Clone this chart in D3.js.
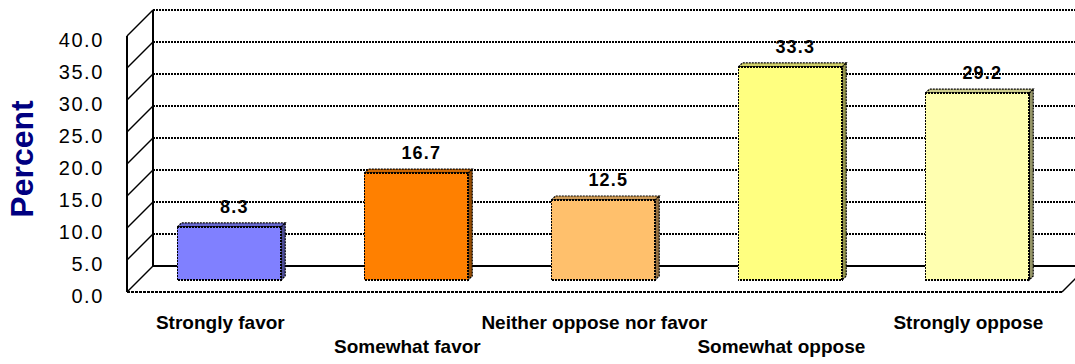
<!DOCTYPE html>
<html><head><meta charset="utf-8">
<script src="https://cdn.jsdelivr.net/npm/d3@7"></script>
<style>html,body{margin:0;padding:0;background:#fff;overflow:hidden}</style>
</head><body>
<svg id="chart" width="1075" height="364"></svg>
<script>
const categories = ["Strongly favor","Somewhat favor","Neither oppose nor favor","Somewhat oppose","Strongly oppose"];
const values = [8.3, 16.7, 12.5, 33.3, 29.2];
const colors = ["#8080FF","#FF8000","#FFC06C","#FFFF80","#FFFFB0"];
const tickValues = [0,5,10,15,20,25,30,35,40];
const axisTitle = "Percent";

const svg = d3.select("#chart");
const D = 26;          // wall depth offset
const barDepth = 13;   // bars sit at mid depth
const bd = 4;          // bar box depth
const y = d3.scaleLinear().domain([0,40]).range([266,10]);   // back wall
const x = d3.scaleBand().domain(categories).range([127,1062])
  .paddingInner(0.445).paddingOuter(0.2225).align(0.45);     // front floor
const font = "'Liberation Sans', Arial, sans-serif";

// back wall gridlines
svg.append("g").selectAll("line").data(tickValues).join("line")
  .attr("x1", 127+D).attr("x2", 1062+D)
  .attr("y1", d=>y(d)).attr("y2", d=>y(d))
  .attr("stroke","#000").attr("stroke-width",d=> d===0 ? 2 : 2)
  .attr("shape-rendering","crispEdges")
  .attr("stroke-dasharray", d=> d===0 ? null : "2,1");
// left wall diagonals
svg.append("g").selectAll("line").data(tickValues).join("line")
  .attr("x1",127).attr("y1",d=>y(d)+D).attr("x2",127+D).attr("y2",d=>y(d))
  .attr("stroke","#000").attr("stroke-width",1.4);
// wall edges
svg.append("line").attr("x1",127+D).attr("x2",127+D).attr("y1",y(40)).attr("y2",y(0))
  .attr("stroke","#000").attr("stroke-width",2).attr("shape-rendering","crispEdges");
svg.append("line").attr("x1",127).attr("x2",127).attr("y1",y(40)+D).attr("y2",y(0)+D)
  .attr("stroke","#000").attr("stroke-width",2).attr("shape-rendering","crispEdges");
// floor front edge and right edge
svg.append("line").attr("x1",127).attr("x2",1062).attr("y1",y(0)+D).attr("y2",y(0)+D)
  .attr("stroke","#000").attr("stroke-width",2).attr("shape-rendering","crispEdges").attr("stroke-dasharray","3,1");
svg.append("line").attr("x1",1062).attr("y1",y(0)+D).attr("x2",1062+D).attr("y2",y(0))
  .attr("stroke","#000").attr("stroke-width",1.4);

// tick labels
svg.append("g").selectAll("text").data(tickValues).join("text")
  .attr("x",104).attr("y",d=>y(d)+36.5)
  .attr("text-anchor","end")
  .style("font-family",font).style("font-size","20px").style("letter-spacing","1.6px")
  .attr("fill","#000").text(d=>d3.format(".1f")(d));

// bars
const data = categories.map((c,i)=>({c, v:values[i], col:colors[i]}));
const bw = x.bandwidth();
const g = svg.append("g");
data.forEach(d=>{
  const x0 = x(d.c)+barDepth, x1 = x0+bw;
  const yt = y(d.v)+barDepth+1, yb = y(0)+barDepth+1;
  const c = d3.color(d.col);
  g.append("polygon")
    .attr("points",[[x0,yt],[x0+bd,yt-bd],[x1+bd,yt-bd],[x1,yt]].join(" "))
    .attr("fill",c.darker(0.6)).attr("stroke","#000").attr("stroke-width",1.2).attr("stroke-dasharray","2,1");
  g.append("polygon")
    .attr("points",[[x1,yt],[x1+bd,yt-bd],[x1+bd,yb-bd],[x1,yb]].join(" "))
    .attr("fill",c.darker(1.5)).attr("stroke","#000").attr("stroke-width",1.2).attr("stroke-dasharray","2,1");
  g.append("rect").attr("x",x0).attr("y",yt).attr("width",bw).attr("height",yb-yt)
    .attr("fill",d.col).attr("stroke","#000").attr("stroke-width",1.6)
    .attr("shape-rendering","crispEdges").attr("stroke-dasharray","2,1");
  g.append("text").attr("x",x0+bw/2+5).attr("y",yt-14)
    .attr("text-anchor","middle")
    .style("font-family",font).style("font-size","18px").style("font-weight","bold").style("letter-spacing","1.2px")
    .attr("fill","#000").text(d3.format(".1f")(d.v));
});

// category labels (staggered)
svg.append("g").selectAll("text").data(categories).join("text")
  .attr("x",d=>x(d)+bw/2+4).attr("y",(d,i)=> i%2===0 ? 329 : 353)
  .attr("text-anchor","middle")
  .style("font-family",font).style("font-size","19px").style("font-weight","bold")
  .attr("fill","#000").text(d=>d);

// axis title
svg.append("text").attr("transform","translate(33,159) rotate(-90)")
  .attr("text-anchor","middle")
  .style("font-family",font).style("font-size","32px").style("font-weight","bold")
  .attr("fill","#000080").text(axisTitle);
</script>
</body></html>
